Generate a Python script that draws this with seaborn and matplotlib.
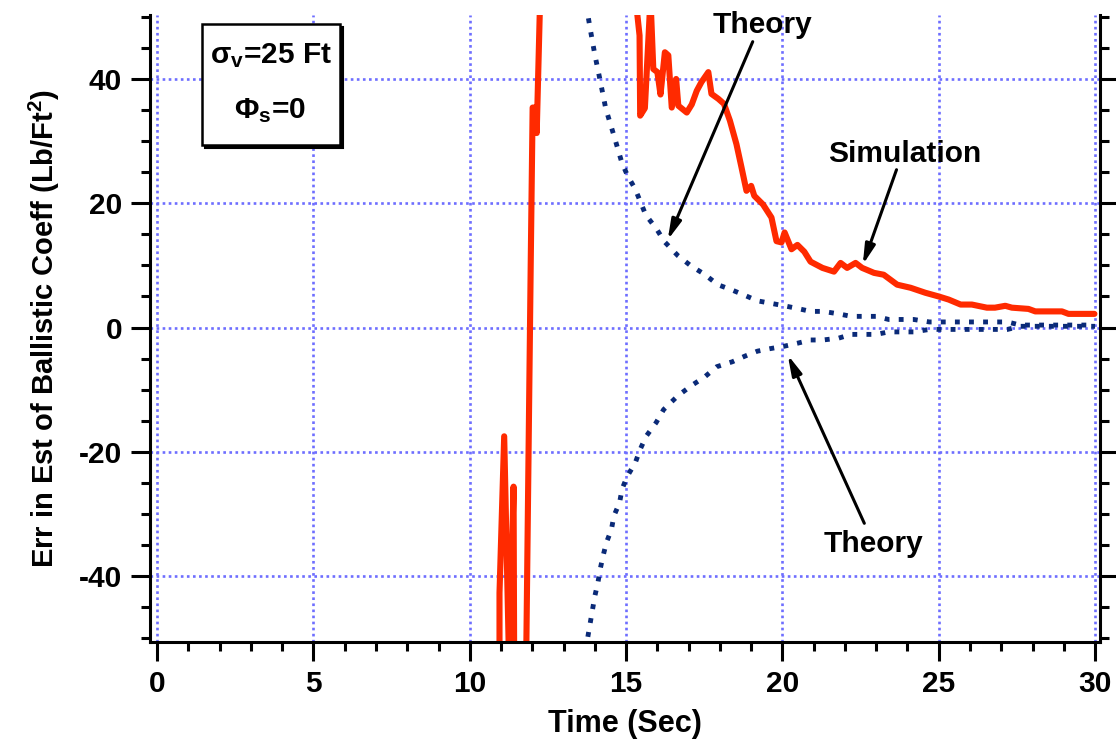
import numpy as np
import pandas as pd
import seaborn as sns
import matplotlib.pyplot as plt
from matplotlib.patches import Rectangle

# simulated error in ballistic coefficient estimate (Lb/Ft^2) vs time (s)
sim_t = [10.95, 10.95, 11.1, 11.26, 11.4, 11.42, 11.8, 11.95, 12.01, 12.13, 12.14, 12.26,
         15.26, 15.43, 15.45, 15.6, 15.78, 15.87, 16.0, 16.1, 16.24, 16.35, 16.46, 16.6,
         16.67, 16.94, 17.1, 17.26, 17.41, 17.63, 17.73, 17.95, 18.13, 18.32, 18.53,
         18.69, 18.85, 19.0, 19.1, 19.38, 19.65, 19.81, 19.97, 20.07, 20.29, 20.48,
         20.7, 20.9, 21.28, 21.65, 21.86, 22.07, 22.34, 22.55, 22.93, 23.24, 23.67,
         24.1, 24.57, 25.0, 25.32, 25.7, 26.06, 26.54, 26.8, 27.13, 27.34, 27.87,
         28.09, 28.94, 29.15, 29.98]
sim_err = [-55, -42.7, -17.5, -55, -25.6, -55, -55, 10.8, 35.4, 35.4, 31.3, 55,
           55, 47.0, 34.1, 35.3, 53, 41.6, 41.1, 37.5, 44.3, 43.8, 35.4, 40.0,
           35.7, 34.6, 35.9, 38.1, 39.5, 41.1, 37.6, 36.8, 36.0, 33.3, 29.5,
           25.8, 22.0, 22.8, 21.2, 19.8, 17.7, 13.9, 13.7, 15.3, 12.6, 13.3,
           12.2, 10.6, 9.6, 9.0, 10.4, 9.6, 10.4, 9.6, 8.8, 8.5, 6.9,
           6.4, 5.6, 5.0, 4.5, 3.7, 3.7, 3.2, 3.2, 3.5, 3.2, 3.0,
           2.6, 2.6, 2.2, 2.2]

# theoretical bounds
theo_up_t = [13.72, 13.85, 14.0, 14.18, 14.35, 14.61, 14.86, 15.04, 15.29, 15.46, 15.63,
             15.97, 16.23, 16.65, 17.08, 17.5, 17.93, 18.36, 18.79, 19.2, 19.63, 20.06,
             20.5, 20.9, 21.3, 21.8, 22.2, 23.0, 23.4, 24.2, 24.7, 27.2, 27.6, 30.0]
theo_up = [52, 48.1, 43.9, 39.5, 35.2, 30.9, 26.6, 24.5, 22.3, 20.2, 18.1,
           15.9, 13.8, 11.6, 9.9, 8.6, 6.9, 6.1, 5.2, 4.3, 3.9, 3.5,
           3.05, 2.6, 2.6, 2.2, 1.8, 1.8, 1.3, 1.3, 0.9, 0.9, 0.4, 0.4]
theo_lo_t = [13.7, 14.0, 14.1, 14.17, 14.26, 14.37, 14.53, 14.61, 14.79, 14.87, 15.04,
             15.29, 15.45, 15.64, 15.96, 16.2, 16.65, 17.1, 17.5, 17.9, 18.4, 18.8,
             19.2, 19.6, 20.06, 20.5, 20.9, 21.3, 21.8, 22.2, 23.0, 23.4, 24.2, 24.7,
             27.2, 27.6, 30.0]
theo_lo = [-52, -43.2, -41.0, -38.9, -36.8, -34.6, -32.5, -30.3, -28.2, -26.0, -23.9,
           -21.8, -19.6, -17.5, -15.3, -13.2, -11.0, -9.3, -8.0, -6.3, -5.5, -4.6,
           -3.8, -3.4, -3.0, -2.5, -2.0, -2.0, -1.7, -1.1, -1.1, -0.7, -0.7, -0.3,
           -0.3, 0.2, 0.2]

sim = pd.DataFrame({'t': sim_t, 'err': sim_err})
up = pd.DataFrame({'t': theo_up_t, 'err': theo_up})
lo = pd.DataFrame({'t': theo_lo_t, 'err': theo_lo})

sns.set_style('ticks')
plt.rcParams['font.family'] = ['Liberation Sans', 'DejaVu Sans']
plt.rcParams['mathtext.fontset'] = 'custom'
plt.rcParams['mathtext.default'] = 'regular'
plt.rcParams['axes.unicode_minus'] = False
for k in ('text.color', 'axes.labelcolor', 'xtick.color', 'ytick.color', 'axes.edgecolor'):
    plt.rcParams[k] = 'black'

fig = plt.figure(figsize=(11.16, 7.48), dpi=100)
ax = fig.add_axes([0.1344, 0.1417, 0.8513, 0.8383])

theory_c = '#0a2a78'
dots = (0, (1, 1.9))
for d in (up, lo):
    sns.lineplot(data=d, x='t', y='err', ax=ax, color=theory_c, lw=3.5,
                 estimator=None, sort=False)
for ln in ax.lines:
    ln.set_linestyle(dots)
    ln.set_dash_capstyle('butt')
sns.lineplot(data=sim, x='t', y='err', ax=ax, color='#ff2a00', lw=4.4,
             estimator=None, sort=False)

ax.set_xlim(-0.23, 30.16)
ax.set_ylim(-50.6, 50.3)
ax.set_xticks(np.arange(0, 31, 5))
ax.set_xticks(np.arange(0, 31, 1), minor=True)
ax.set_yticks(np.arange(-40, 41, 20))
ax.set_yticks(np.arange(-50, 51, 5), minor=True)

ax.grid(True, which='major', color='#6e6eff', lw=1.9, linestyle=(0, (1, 1.3)))
ax.spines['top'].set_visible(False)
for s in ('left', 'bottom', 'right'):
    ax.spines[s].set_linewidth(2.2)
ax.tick_params(which='both', direction='out', width=2.2, right=True, labelright=False)
ax.tick_params(which='major', length=14, labelsize=21.5, pad=6)
ax.tick_params(which='minor', length=6.5)
for lab in ax.get_xticklabels() + ax.get_yticklabels():
    lab.set_fontweight('bold')

ax.set_xlabel('Time (Sec)', fontsize=22, fontweight='bold', labelpad=8)
ax.set_ylabel('Err in Est of Ballistic Coeff (Lb/Ft$^2$)', fontsize=21,
              fontweight='bold', labelpad=12)

# parameter box with drop shadow
ax.add_patch(Rectangle((1.52, 28.9), 4.42, 19.4, facecolor='black', edgecolor='black',
                       lw=1.5, zorder=5))
ax.add_patch(Rectangle((1.42, 29.4), 4.42, 19.4, facecolor='white', edgecolor='black',
                       lw=1.8, zorder=6))
ax.text(3.64, 42.6, r'$σ_v$=25 Ft', fontsize=21.5, fontweight='bold', ha='center',
        va='baseline', zorder=7)
ax.text(3.6, 33.7, r'$Φ_s$=0', fontsize=21.5, fontweight='bold', ha='center',
        va='baseline', zorder=7)

arrow = dict(arrowstyle='-|>,head_length=0.6,head_width=0.15', mutation_scale=20,
             color='black', lw=2.2, shrinkA=0, shrinkB=0)
ax.annotate('', xy=(16.33, 14.1), xytext=(19.05, 46.0), arrowprops=arrow, zorder=8)
ax.text(19.35, 47.4, 'Theory', fontsize=21.5, fontweight='bold', ha='center', va='baseline')
ax.annotate('', xy=(22.57, 10.1), xytext=(23.65, 25.4), arrowprops=arrow, zorder=8)
ax.text(23.9, 26.6, 'Simulation', fontsize=21.5, fontweight='bold', ha='center', va='baseline')
ax.annotate('', xy=(20.17, -4.4), xytext=(22.62, -31.5), arrowprops=arrow, zorder=8)
ax.text(22.9, -36.1, 'Theory', fontsize=21.5, fontweight='bold', ha='center', va='baseline')

fig.savefig('out.png', dpi=100)
